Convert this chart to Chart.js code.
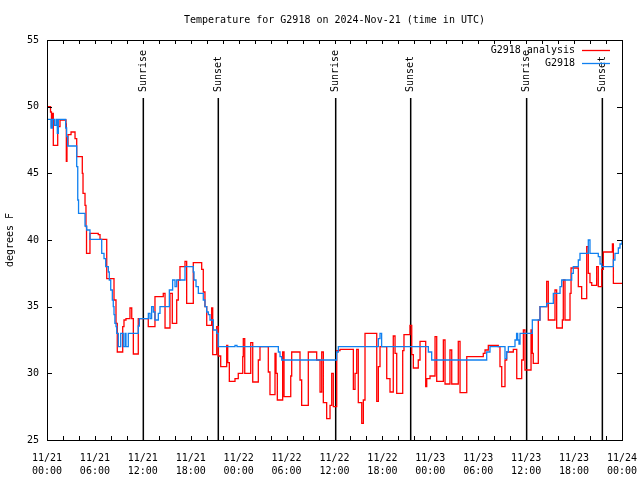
<!DOCTYPE html>
<html><head><meta charset="utf-8">
<script src="https://cdn.jsdelivr.net/npm/chart.js@4"></script>
<style>html,body{margin:0;padding:0;background:#fff;}canvas{display:block;}</style>
</head><body>
<canvas id="c" width="640" height="480"></canvas>
<script>
const chartTitle = 'Temperature for G2918 on 2024-Nov-21 (time in UTC)';
const yAxisTitle = 'degrees F';
const seriesNames = ['G2918 analysis', 'G2918'];
const seriesColors = ['#ff0000', '#1080f0'];

const xTickDates = ['11/21','11/21','11/21','11/21','11/22','11/22','11/22','11/22','11/23','11/23','11/23','11/23','11/24'];
const xTickTimes = ['00:00','06:00','12:00','18:00','00:00','06:00','12:00','18:00','00:00','06:00','12:00','18:00','00:00'];

const sunEventHours = [12.06, 21.45, 36.15, 45.54, 60.06, 69.54];
const sunEventLabels = ['Sunrise','Sunset','Sunrise','Sunset','Sunrise','Sunset'];

// hours since 2024-11-21 00:00 UTC
const analysisHours = [
 0, 0.44, 0.56, 0.69, 0.79, 1.34, 1.63, 2.38, 2.42, 2.50,
 2.63, 3.01, 3.51, 3.72, 4.42, 4.51, 4.76, 4.88, 4.95, 5.38,
 6.42, 6.64, 7.48, 8.39, 8.64, 8.80, 9.48, 9.64, 9.89, 10.39,
 10.61, 10.81, 11.43, 12.68, 13.52, 14.56, 14.78, 15.40, 15.69, 16.24,
 16.44, 16.65, 17.28, 17.49, 18.32, 19.37, 19.57, 19.78, 20.00, 20.62,
 20.75, 21.25, 21.45, 21.75, 22.50, 22.63, 22.83, 23.54, 23.95, 24.51,
 24.58, 24.76, 25.51, 25.76, 26.46, 26.67, 27.71, 27.92, 28.55, 28.68,
 28.84, 29.51, 29.68, 30.52, 30.64, 31.68, 31.89, 32.72, 33.77, 34.19,
 34.40, 34.60, 35.02, 35.44, 35.65, 35.85, 36.28, 36.69, 38.36, 38.57,
 38.78, 38.98, 39.41, 39.61, 39.82, 41.29, 41.49, 41.70, 42.54, 42.95,
 43.36, 43.58, 43.79, 44.54, 44.70, 45.45, 45.67, 45.87, 46.49, 46.71,
 47.42, 47.55, 47.96, 48.59, 48.80, 49.63, 49.84, 50.46, 50.68, 51.50,
 51.72, 52.56, 54.63, 54.85, 55.26, 56.51, 56.72, 56.94, 57.35, 57.56,
 58.39, 58.82, 59.44, 59.65, 59.85, 60.61, 60.77, 60.89, 61.52, 61.73,
 62.57, 62.77, 63.61, 63.82, 64.53, 64.65, 64.86, 65.49, 65.62, 66.53,
 66.95, 67.58, 67.78, 67.99, 68.21, 68.83, 69.03, 69.46, 69.66, 70.80,
 70.92, 72.00
];
const analysisTemps = [
 50.0, 49.6, 48.5, 49.5, 47.1, 48.5, 49.0, 48.7, 45.9, 47.1,
 47.9, 48.1, 47.6, 46.25, 45.0, 43.5, 42.6, 41.0, 39.0, 40.5,
 40.4, 40.05, 37.1, 35.5, 33.75, 31.6, 33.5, 34.0, 34.1, 34.9,
 34.1, 31.45, 34.1, 33.5, 35.75, 36.0, 33.4, 36.0, 33.75, 35.5,
 37.0, 38.0, 38.4, 35.25, 38.3, 37.8, 36.1, 35.0, 33.6, 34.9,
 31.4, 33.5, 31.3, 30.5, 32.1, 30.8, 29.4, 29.6, 30.0, 31.25,
 32.6, 30.0, 32.3, 29.35, 31.0, 32.0, 30.1, 28.4, 31.5, 30.0,
 28.0, 31.6, 28.25, 29.8, 31.6, 29.5, 27.6, 31.6, 31.0, 28.6,
 31.6, 27.8, 26.6, 27.6, 30.0, 27.5, 31.7, 31.8, 28.8, 30.0,
 31.8, 27.8, 26.25, 28.0, 33.0, 27.9, 30.5, 32.0, 29.6, 28.6,
 32.8, 31.5, 28.5, 31.7, 32.9, 33.6, 31.4, 30.4, 31.0, 32.4,
 29.0, 29.6, 29.8, 32.75, 29.4, 32.5, 29.2, 31.75, 29.2, 32.4,
 28.55, 31.25, 31.5, 31.75, 32.1, 32.0, 30.5, 29.0, 31.0, 31.6,
 31.8, 29.6, 31.0, 33.25, 30.25, 33.25, 31.5, 30.75, 34.0, 35.0,
 36.9, 34.0, 36.25, 33.4, 34.0, 37.0, 34.0, 36.0, 37.9, 36.5,
 35.6, 39.5, 37.5, 36.8, 36.6, 38.0, 36.5, 37.8, 39.1, 39.7,
 36.75, 36.75
];

const stationHours = [
 0, 0.50, 0.67, 0.92, 1.13, 1.29, 1.42, 2.34, 2.46, 2.59,
 3.72, 3.85, 3.95, 4.76, 4.97, 5.38, 6.85, 7.14, 7.35, 7.68,
 7.80, 7.98, 8.18, 8.30, 8.39, 8.50, 8.64, 8.73, 8.93, 9.23,
 9.55, 9.77, 9.89, 10.18, 11.43, 11.56, 12.69, 12.90, 13.10, 13.31,
 13.52, 13.94, 14.15, 15.32, 15.73, 16.03, 16.24, 17.28, 18.32, 18.41,
 18.66, 18.95, 19.57, 19.78, 20.00, 20.20, 20.41, 20.83, 21.25, 21.45,
 23.54, 23.79, 28.97, 29.18, 29.39, 36.27, 36.48, 41.49, 41.70, 41.90,
 47.75, 48.17, 55.06, 55.47, 57.35, 57.56, 57.77, 58.60, 58.80, 58.94,
 59.10, 59.23, 60.77, 61.73, 62.57, 63.40, 64.24, 64.45, 65.70, 65.90,
 66.53, 66.74, 67.78, 67.99, 69.03, 69.25, 69.46, 70.92, 71.12, 71.54,
 71.75, 72.00
];
const stationTemps = [
 49.05, 48.4, 49.05, 48.6, 49.05, 48.0, 49.05, 48.4, 47.75, 47.05,
 45.5, 43.0, 42.0, 41.05, 40.75, 40.05, 39.0, 38.6, 38.0, 37.6,
 37.0, 36.25, 35.5, 35.0, 34.4, 33.75, 33.5, 33.0, 32.0, 33.0,
 32.0, 33.0, 32.0, 33.0, 33.55, 34.1, 34.5, 34.1, 35.0, 34.6,
 34.0, 34.5, 35.0, 36.25, 37.0, 36.5, 37.0, 38.0, 37.6, 37.0,
 36.5, 36.0, 35.5, 35.0, 34.6, 34.4, 34.0, 33.25, 33.0, 32.0,
 32.1, 32.0, 31.6, 31.25, 31.0, 31.6, 32.0, 32.6, 33.0, 32.0,
 31.6, 31.0, 31.6, 32.0, 31.1, 31.6, 32.0, 32.5, 33.0, 32.5,
 32.2, 33.0, 34.0, 35.0, 35.25, 36.0, 36.5, 37.0, 37.5, 38.0,
 38.5, 39.0, 40.0, 39.0, 38.75, 38.2, 38.0, 38.5, 39.0, 39.4,
 39.7, 40.0
];

const FONT = '"DejaVu Sans Mono", "Liberation Mono", monospace';
const FONT_STR = '10px ' + FONT;

const toPoints = (xs, ys) => xs.map((x, i) => ({x: x, y: ys[i]}));

const decor = {
  id: 'decor',
  beforeDatasetsDraw(chart) {
    const ctx = chart.ctx, a = chart.chartArea, xs = chart.scales.x;
    ctx.save();
    ctx.strokeStyle = '#000';
    ctx.lineWidth = 1.5;
    sunEventHours.forEach(h => {
      const x = xs.getPixelForValue(h);
      ctx.beginPath();
      ctx.moveTo(x, a.top + 58);
      ctx.lineTo(x, a.bottom);
      ctx.stroke();
    });
    ctx.restore();
  },
  afterDatasetsDraw(chart) {
    const ctx = chart.ctx, a = chart.chartArea, xs = chart.scales.x, ys = chart.scales.y;
    ctx.save();
    ctx.strokeStyle = '#000';
    ctx.lineWidth = 1;
    ctx.strokeRect(a.left + 0.5, a.top + 0.5, a.right - a.left, a.bottom - a.top);
    ctx.beginPath();
    for (let h = 0; h <= 72; h += 2) {
      const x = Math.round(xs.getPixelForValue(h)) + 0.5;
      ctx.moveTo(x, a.bottom); ctx.lineTo(x, a.bottom - 4);
      ctx.moveTo(x, a.top); ctx.lineTo(x, a.top + 4);
    }
    for (let v = 25; v <= 55; v += 5) {
      const y = Math.round(ys.getPixelForValue(v)) + 0.5;
      ctx.moveTo(a.left, y); ctx.lineTo(a.left + 5, y);
      ctx.moveTo(a.right, y); ctx.lineTo(a.right - 5, y);
    }
    ctx.stroke();
    ctx.fillStyle = '#000';
    ctx.font = FONT_STR;
    sunEventHours.forEach((h, i) => {
      const x = xs.getPixelForValue(h);
      ctx.save();
      ctx.translate(x, a.top + 52);
      ctx.rotate(-Math.PI / 2);
      ctx.textAlign = 'left';
      ctx.textBaseline = 'middle';
      ctx.fillText(sunEventLabels[i], 0, 0);
      ctx.restore();
    });
    ctx.textAlign = 'right';
    ctx.textBaseline = 'middle';
    seriesNames.forEach((name, i) => {
      const y = a.top + 10 + i * 13;
      ctx.fillStyle = '#000';
      ctx.fillText(name, a.right - 47, y);
      ctx.strokeStyle = seriesColors[i];
      ctx.lineWidth = 1.3;
      ctx.beginPath();
      ctx.moveTo(a.right - 40, y + 0.5);
      ctx.lineTo(a.right - 12, y + 0.5);
      ctx.stroke();
    });
    ctx.fillStyle = '#000';
    ctx.textAlign = 'center';
    ctx.fillText(chartTitle, (a.left + a.right) / 2, 20);
    ctx.save();
    ctx.translate(10, (a.top + a.bottom) / 2);
    ctx.rotate(-Math.PI / 2);
    ctx.textAlign = 'center';
    ctx.textBaseline = 'middle';
    ctx.fillText(yAxisTitle, 0, 0);
    ctx.restore();
    ctx.restore();
  }
};

new Chart(document.getElementById('c'), {
  type: 'line',
  data: {
    datasets: [
      { label: seriesNames[0], data: toPoints(analysisHours, analysisTemps), borderColor: seriesColors[0],
        borderWidth: 1.3, pointRadius: 0, stepped: true, fill: false, order: 1 },
      { label: seriesNames[1], data: toPoints(stationHours, stationTemps), borderColor: seriesColors[1],
        borderWidth: 1.3, pointRadius: 0, stepped: true, fill: false, order: 0 }
    ]
  },
  options: {
    responsive: false,
    animation: false,
    devicePixelRatio: 1,
    layout: { padding: { top: 40, right: 18, left: 0, bottom: 0 } },
    plugins: { legend: { display: false }, tooltip: { enabled: false }, title: { display: false } },
    scales: {
      x: {
        type: 'linear', min: 0, max: 72,
        grid: { display: false, drawTicks: false }, border: { display: false },
        ticks: {
          stepSize: 6, autoSkip: false, maxRotation: 0, minRotation: 0, padding: 12, color: '#000',
          font: { family: FONT, size: 10, lineHeight: 1.3 },
          callback: (v) => { const i = Math.round(v / 6); return [xTickDates[i], xTickTimes[i]]; }
        },
        afterFit: (s) => { s.height = 40; s.paddingLeft = 0; s.paddingRight = 0; }
      },
      y: {
        min: 25, max: 55,
        grid: { display: false, drawTicks: false }, border: { display: false },
        ticks: { stepSize: 5, padding: 8, color: '#000', font: { family: FONT, size: 10 } },
        afterFit: (s) => { s.width = 47; s.paddingTop = 0; s.paddingBottom = 0; }
      }
    }
  },
  plugins: [decor]
});
</script>
</body></html>
